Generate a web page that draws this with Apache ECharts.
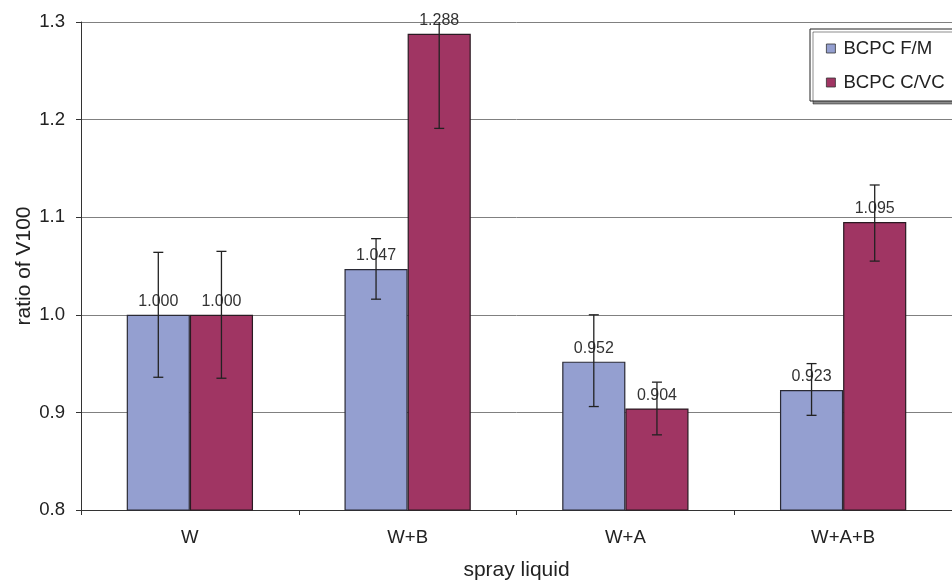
<!DOCTYPE html>
<html>
<head>
<meta charset="utf-8">
<script src="https://cdn.jsdelivr.net/npm/echarts@6/dist/echarts.min.js"></script>
<style>html,body{margin:0;padding:0;background:#fff}#c{width:952px;height:581px}</style>
</head>
<body>
<div id="c"></div>
<script>
var categories = ['W', 'W+B', 'W+A', 'W+A+B'];
var seriesNames = ['BCPC F/M', 'BCPC C/VC'];
var fmValues = [1.000, 1.047, 0.952, 0.923];
var cvcValues = [1.000, 1.288, 0.904, 1.095];
var fmErrLow = [0.936, 1.016, 0.906, 0.897];
var fmErrHigh = [1.064, 1.078, 1.000, 0.950];
var cvcErrLow = [0.935, 1.191, 0.877, 1.055];
var cvcErrHigh = [1.065, 1.385, 0.931, 1.133];
var yTicks = [0.8, 0.9, 1.0, 1.1, 1.2, 1.3];

var Y_MIN = 0.8, Y_MAX = 1.3;
var BAR_FRAC = 0.29;
var font = 'Liberation Sans, Arial, sans-serif';

function errData(lo, hi) {
  return categories.map(function (c, i) { return [i, lo[i], hi[i]]; });
}
function errSeries(lo, hi, side) {
  return {
    type: 'custom',
    silent: true,
    z: 5,
    clip: true,
    data: errData(lo, hi),
    encode: { x: 0, y: [1, 2] },
    renderItem: function (params, api) {
      var i = api.value(0);
      var l = Math.max(api.value(1), Y_MIN);
      var h = Math.min(api.value(2), Y_MAX);
      var band = api.size([1, 0])[0];
      var p1 = api.coord([i, h]);
      var p2 = api.coord([i, l]);
      var x = p1[0] + side * band * BAR_FRAC / 2;
      var cap = 5;
      var st = { stroke: '#222', lineWidth: 1.3 };
      var children = [
        { type: 'line', shape: { x1: x, y1: p1[1], x2: x, y2: p2[1] }, style: st },
        { type: 'line', shape: { x1: x - cap, y1: p2[1], x2: x + cap, y2: p2[1] }, style: st }
      ];
      if (api.value(2) <= Y_MAX) {
        children.push({ type: 'line', shape: { x1: x - cap, y1: p1[1], x2: x + cap, y2: p1[1] }, style: st });
      }
      return { type: 'group', children: children };
    }
  };
}

var chart = echarts.init(document.getElementById('c'), null, { renderer: 'canvas' });
chart.setOption({
  animation: false,
  backgroundColor: '#fff',
  textStyle: { fontFamily: font },
  grid: { left: 81, right: 0, top: 22, bottom: 71, containLabel: false, outerBoundsMode: 'none' },
  legend: {
    orient: 'vertical',
    left: 810,
    top: 29,
    data: seriesNames,
    itemWidth: 9,
    itemHeight: 9,
    itemGap: 15,
    padding: [10, 16, 9, 16],
    borderColor: '#222',
    borderWidth: 1,
    backgroundColor: '#fff',
    shadowColor: 'rgba(0,0,0,0.45)',
    shadowOffsetX: 3,
    shadowOffsetY: 3,
    shadowBlur: 0,
    textStyle: { fontSize: 18.6, color: '#222', fontFamily: font, padding: [0, 0, 0, 3] },
    icon: 'rect',
    itemStyle: { borderColor: '#333', borderWidth: 0.8 }
  },
  xAxis: {
    type: 'category',
    data: categories,
    name: 'spray liquid',
    nameLocation: 'middle',
    nameGap: 50,
    nameMoveOverlap: false,
    nameTextStyle: { fontSize: 21, color: '#222', fontFamily: font },
    axisLine: { lineStyle: { color: '#333', width: 1 } },
    axisTick: { show: true, length: 5, inside: false, alignWithLabel: false, lineStyle: { color: '#333' } },
    axisLabel: { fontSize: 18.6, color: '#222', margin: 18, fontFamily: font },
    splitLine: { show: false }
  },
  yAxis: {
    type: 'value',
    min: Y_MIN,
    max: Y_MAX,
    interval: 0.1,
    name: 'ratio of V100',
    nameLocation: 'middle',
    nameGap: 46,
    nameMoveOverlap: false,
    nameTextStyle: { fontSize: 21, color: '#222', fontFamily: font },
    axisLine: { show: true, lineStyle: { color: '#333', width: 1 } },
    axisTick: { show: true, length: 5, lineStyle: { color: '#333' } },
    axisLabel: {
      fontSize: 18.6, color: '#222', margin: 16, fontFamily: font,
      formatter: function (v) { return v.toFixed(1); }
    },
    splitLine: { show: true, lineStyle: { color: '#808080', width: 1 } }
  },
  series: [
    {
      name: seriesNames[0],
      type: 'bar',
      data: fmValues,
      barWidth: (BAR_FRAC * 100) + '%',
      barGap: '0%',
      itemStyle: { color: '#949FD0', borderColor: '#2a2a35', borderWidth: 1.2 },
      label: {
        show: true, position: 'top', distance: 5, fontSize: 16, color: '#333', fontFamily: font,
        formatter: function (p) { return p.value.toFixed(3); }
      },
      z: 2
    },
    {
      name: seriesNames[1],
      type: 'bar',
      data: cvcValues,
      barWidth: (BAR_FRAC * 100) + '%',
      barGap: '0%',
      itemStyle: { color: '#A03563', borderColor: '#2a1a22', borderWidth: 1.2 },
      label: {
        show: true, position: 'top', distance: 5, fontSize: 16, color: '#333', fontFamily: font,
        formatter: function (p) { return p.value.toFixed(3); }
      },
      z: 2
    },
    errSeries(fmErrLow, fmErrHigh, -1),
    errSeries(cvcErrLow, cvcErrHigh, 1)
  ]
});
</script>
</body>
</html>
